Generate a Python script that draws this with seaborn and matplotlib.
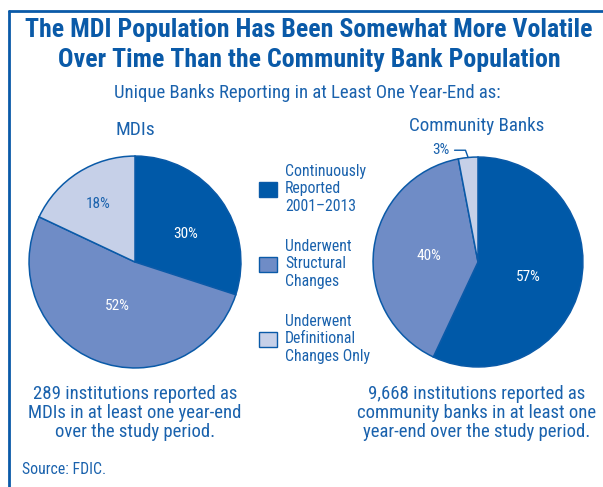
import matplotlib
matplotlib.use("Agg")
import matplotlib.pyplot as plt
import matplotlib.patches as mpatches
import seaborn as sns
import numpy as np

# data
categories = ["Continuously\nReported\n2001\u20132013",
              "Underwent\nStructural\nChanges",
              "Underwent\nDefinitional\nChanges Only"]
mdi_share = [30, 52, 18]
cb_share = [57, 40, 3]

sns.set_theme(style="white")
plt.rcParams['font.family'] = ['Roboto Condensed', 'Barlow Condensed', 'Archivo Narrow', 'DejaVu Sans']

blue = "#0a5aa8"
text_blue = "#1a62ad"
palette = ["#0059a8", "#6f8cc6", "#c6d0e8"]

W, H = 603, 487
fig = plt.figure(figsize=(W / 100, H / 100), dpi=100)


def px_axes(cx, cy, r):
    # axes placed from pixel centre / radius
    return fig.add_axes([(cx - r) / W, (H - cy - r) / H, 2 * r / W, 2 * r / H])


def draw_pie(ax, values, label_pos, label_colors):
    wedges, _ = ax.pie(values, colors=palette, startangle=90, counterclock=False,
                       wedgeprops=dict(edgecolor=blue, linewidth=1.1))
    for w, v, c, lp in zip(wedges, values, label_colors, label_pos):
        if lp is None:
            continue
        lr, shift = lp
        mid = np.deg2rad((w.theta1 + w.theta2) / 2 + shift)
        ax.text(lr * np.cos(mid), lr * np.sin(mid), f"{v}%", ha="center", va="center",
                fontsize=11, color=c)
    ax.set_xlim(-1.01, 1.01)
    ax.set_ylim(-1.01, 1.01)
    ax.set_aspect("equal")
    ax.axis("off")
    return wedges


# MDI pie
ax1 = px_axes(135, 262, 107)
w1 = draw_pie(ax1, mdi_share, [(0.55, -7), (0.45, 0), (0.65, 0)],
              ["white", "white", text_blue])

# Community bank pie
ax2 = px_axes(478, 262, 106)
w2 = draw_pie(ax2, cb_share, [(0.50, -4), (0.47, 0), None],
              ["white", "white", text_blue])
small = w2[2]
mid = np.deg2rad((small.theta1 + small.theta2) / 2)
ax2.annotate(f"{cb_share[2]}%", xy=(np.cos(mid), np.sin(mid)), xytext=(-0.35, 1.065),
             ha="center", va="center", fontsize=11, color=text_blue,
             arrowprops=dict(arrowstyle="-", color=blue, lw=1,
                             connectionstyle="angle,angleA=0,angleB=110,rad=0",
                             shrinkA=1, shrinkB=0))

# frame
fig.add_artist(plt.Line2D([9 / W, 9 / W], [0, 1 - 11 / H], color=blue, lw=2))
fig.add_artist(plt.Line2D([9 / W, 1], [1 - 11 / H, 1 - 11 / H], color=blue, lw=2))

# titles
fig.text(309 / W, 1 - 30 / H, "The MDI Population Has Been Somewhat More Volatile",
         ha="center", va="center", fontsize=18.6, fontweight="bold", color=blue)
fig.text(309 / W, 1 - 60 / H, "Over Time Than the Community Bank Population",
         ha="center", va="center", fontsize=18.6, fontweight="bold", color=blue)
fig.text(307 / W, 1 - 93 / H, "Unique Banks Reporting in at Least One Year-End as:",
         ha="center", va="center", fontsize=13.5, color=text_blue)
fig.text(135 / W, 1 - 130 / H, "MDIs", ha="center", va="center", fontsize=14, color=text_blue)
fig.text(477 / W, 1 - 126 / H, "Community Banks", ha="center", va="center", fontsize=13.7,
         color=text_blue)

# legend
handles = [mpatches.Patch(facecolor=c, edgecolor=blue, linewidth=1) for c in palette]
fig.legend(handles, categories, loc="upper left", bbox_to_anchor=(259 / W, 1 - 164 / H),
           frameon=False, fontsize=11.3, labelcolor=text_blue, handlelength=1.15,
           handleheight=1.15, handletextpad=0.5, labelspacing=1.6, borderpad=0,
           borderaxespad=0)

# notes
fig.text(135 / W, 1 - 413 / H,
         "289 institutions reported as\nMDIs in at least one year-end\nover the study period.",
         ha="center", va="center", fontsize=13.5, color=text_blue, linespacing=1.05)
fig.text(477 / W, 1 - 413 / H,
         "9,668 institutions reported as\ncommunity banks in at least one\nyear-end over the study period.",
         ha="center", va="center", fontsize=13.5, color=text_blue, linespacing=1.05)
fig.text(22 / W, 1 - 470 / H, "Source: FDIC.", ha="left", va="center", fontsize=11.3,
         color=text_blue)

fig.savefig("out.png", dpi=100)
